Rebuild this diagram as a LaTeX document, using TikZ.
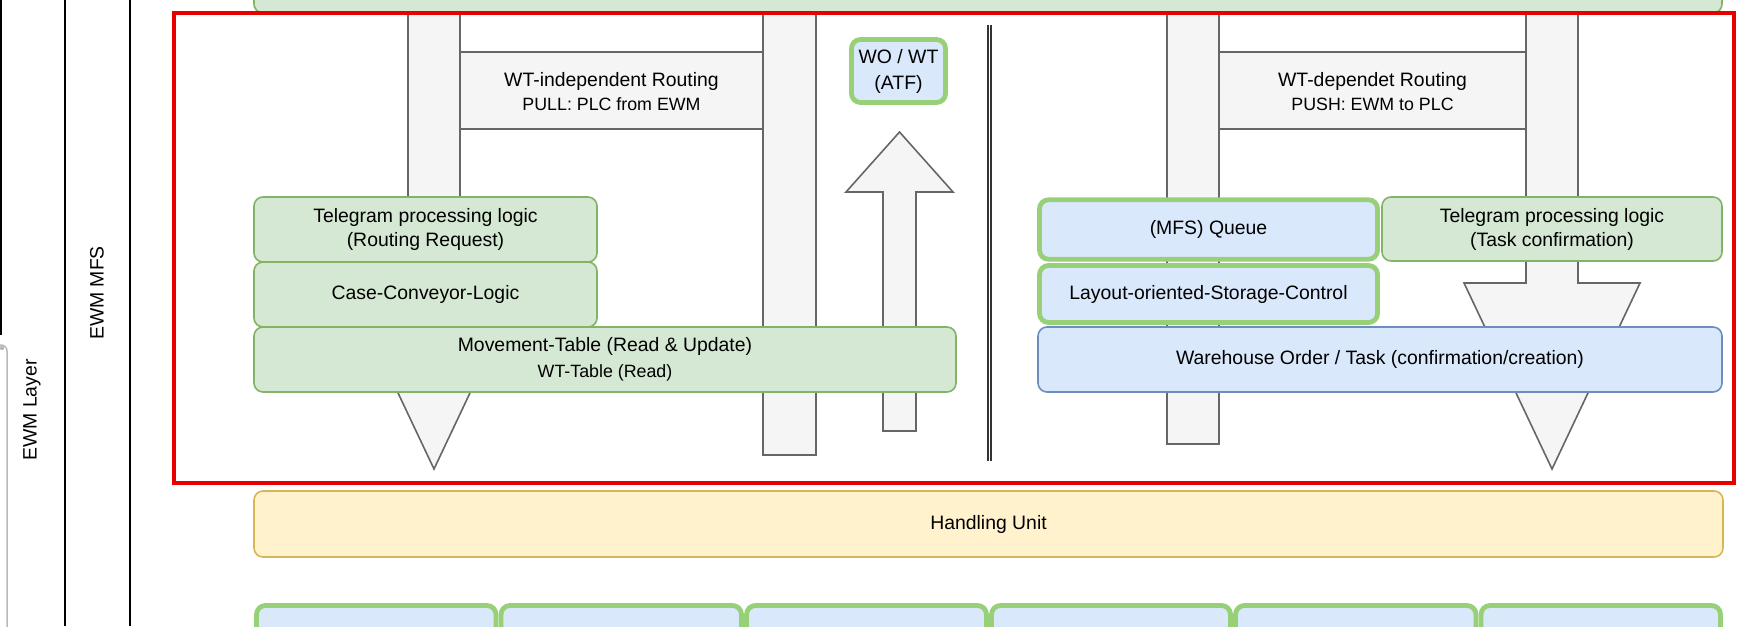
\documentclass[tikz,border=0pt]{standalone}
\usepackage{fontspec}
\setmainfont{Liberation Sans}
\definecolor{grnF}{HTML}{D5E8D4}
\definecolor{grnS}{HTML}{82B366}
\definecolor{thkS}{HTML}{97D077}
\definecolor{bluF}{HTML}{DAE8FC}
\definecolor{bluS}{HTML}{6C8EBF}
\definecolor{ylwF}{HTML}{FFF2CC}
\definecolor{ylwS}{HTML}{D6B656}
\definecolor{gryF}{HTML}{F5F5F5}
\definecolor{gryS}{HTML}{666666}
\definecolor{redS}{HTML}{E60000}
\definecolor{dblS}{HTML}{333333}
\newcommand\smallf{\fontsize{17.8}{24}\selectfont}
\begin{document}
\begin{tikzpicture}[x=1pt,y=-1pt,
  txt/.style={font=\fontsize{19.4}{24}\selectfont, align=center, inner sep=0pt},
  boxbase/.style={rectangle, rounded corners=9pt, inner sep=0pt, align=center,
    font=\fontsize{19.4}{24}\selectfont},
  gbox/.style={boxbase, draw=grnS, fill=grnF, line width=1.6pt},
  bbox/.style={boxbase, draw=bluS, fill=bluF, line width=1.6pt},
  tbox/.style={boxbase, draw=thkS, fill=bluF, line width=4.8pt},
  ybox/.style={boxbase, draw=ylwS, fill=ylwF, line width=1.6pt},
  garr/.style={draw=gryS, fill=gryF, line width=1.6pt, line join=miter},
  lane/.style={draw=black, line width=2pt},
  dbl/.style={draw=dblS, double=white, line width=1.5pt, double distance=1.8pt},
  frame/.style={draw=redS, line width=3.2pt}
]
\useasboundingbox (0,0) rectangle (1752,626);
\clip (0,0) rectangle (1752,626);

% swimlane lines
\draw[lane] (1,0) -- (1,335);
\draw[lane] (65,0) -- (65,626);
\draw[lane] (130,0) -- (130,626);
\draw[draw=gray!55, line width=1.5pt, rounded corners=6pt] (-20,345) rectangle (7,700);
\fill[gray!55] (2,348) circle (2.2pt);
\node[txt, rotate=90] (ewmlayer) at (32,410) {EWM Layer};
\node[txt, rotate=90] (ewmmfs) at (97,293) {EWM MFS};

% routing bands
\draw[garr] (460,52) rectangle (763,129);
\draw[garr] (1219,52) rectangle (1526,129);
\node[txt] (band1) at (611.5,92) {WT-independent Routing\\{\smallf PULL: PLC from EWM}};
\node[txt] (band2) at (1372.5,92) {WT-dependet Routing\\{\smallf PUSH: EWM to PLC}};

% bars and arrows
\draw[garr] (408,0) -- (460,0) -- (460,283) -- (522,283) -- (434,469) -- (346,283) -- (408,283) -- cycle;
\draw[garr] (763,0) rectangle (816,455);
\draw[garr] (883,431) -- (916,431) -- (916,192) -- (953,192) -- (899.5,132) -- (846,192) -- (883,192) -- cycle;
\draw[garr] (1167,0) rectangle (1219,444);
\draw[garr] (1526,0) -- (1578,0) -- (1578,283) -- (1640,283) -- (1552,469) -- (1464,283) -- (1526,283) -- cycle;

% top green box (cut off)
\draw[draw=grnS, fill=grnF, line width=1.6pt, rounded corners=9pt] (254,-40) rectangle (1722,13);

% left stack
\node[gbox, minimum width=343pt, minimum height=65pt] (tel1) at (425.5,229.5) {Telegram processing logic\\(Routing Request)};
\node[gbox, minimum width=343pt, minimum height=65pt] (ccl) at (425.5,294.5) {Case-Conveyor-Logic};
\node[gbox, minimum width=702pt, minimum height=65pt, font=\fontsize{19.4}{26}\selectfont] (mvt) at (605,359.5) {Movement-Table (Read \& Update)\\{\smallf WT-Table (Read)}};

% WO / WT
\node[tbox, minimum width=94pt, minimum height=63pt, font=\fontsize{19.4}{26}\selectfont] (wowt) at (898.5,71) {WO / WT\\(ATF)};

% separator
\coordinate (septop) at (989.5,25);
\coordinate (sepbot) at (989.5,461);
\draw[dbl] (septop) -- (sepbot);

% right stack
\node[tbox, minimum width=338pt, minimum height=59.5pt] (mfsq) at (1208.5,229.5) {(MFS) Queue};
\node[tbox, minimum width=338pt, minimum height=57pt] (losc) at (1208.5,294) {Layout-oriented-Storage-Control};
\node[gbox, minimum width=340pt, minimum height=64pt] (tel2) at (1552,229) {Telegram processing logic\\(Task confirmation)};
\node[bbox, minimum width=684pt, minimum height=65pt] (who) at (1380,359.5) {Warehouse Order / Task (confirmation/creation)};

% red frame
\draw[frame] (174,13) rectangle (1734,483);

% handling unit
\node[ybox, minimum width=1469pt, minimum height=66pt] (hu) at (988.5,524) {Handling Unit};

% bottom row
\foreach \a/\b [count=\i] in {254/498.5, 498.5/744, 744/989, 989/1233, 1233/1478.5, 1478.5/1723}{
  \draw[tbox] (\a+2.5,605.5) rectangle (\b-2.5,690);
}
\end{tikzpicture}
\end{document}
